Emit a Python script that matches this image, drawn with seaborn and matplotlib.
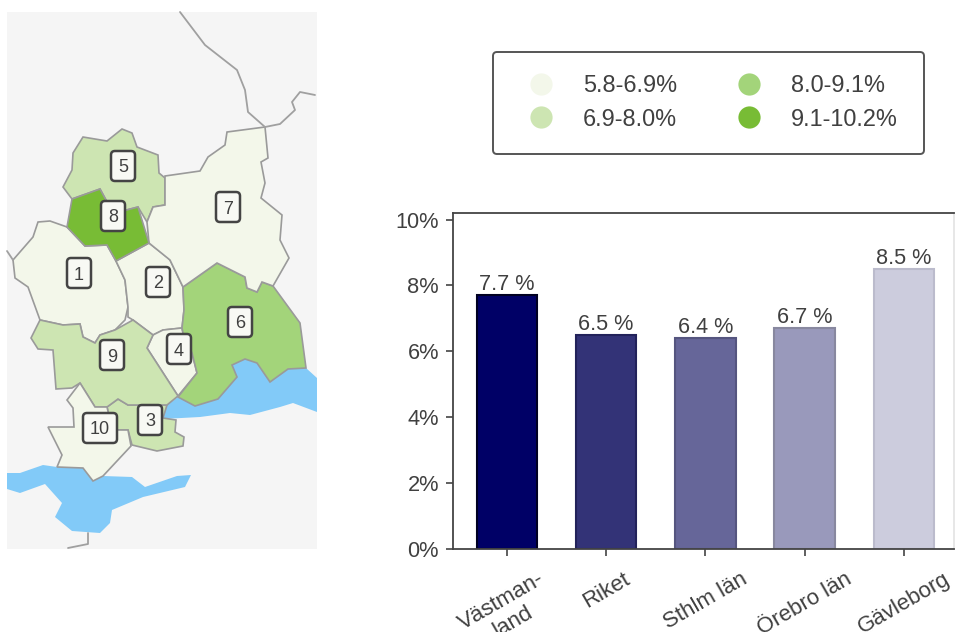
import matplotlib
matplotlib.use('Agg')
import matplotlib.pyplot as plt
import pandas as pd
import seaborn as sns
from matplotlib.lines import Line2D
from matplotlib.patches import FancyBboxPatch, Polygon, Rectangle

# Bar chart data
categories = ['Västman-\nland', 'Riket', 'Sthlm län', 'Örebro län', 'Gävleborg']
shares = [7.7, 6.5, 6.4, 6.7, 8.5]
bar_colors = ['#000066', '#333377', '#666699', '#9999bb', '#ccccdd']
bar_edges = ['#000022', '#22225a', '#55557f', '#88889f', '#bbbbcc']

# Legend classes
class_labels = ['5.8-6.9%', '6.9-8.0%', '8.0-9.1%', '9.1-10.2%']
class_colors = ['#f3f7ea', '#cde5b2', '#a3d47a', '#78bc35']

# Map outlines, traced in image pixels
region_1 = [(38, 222), (50, 221), (67, 227), (85, 246), (107, 245), (116, 261), (125, 280), (128, 307),
            (125, 320), (115, 330), (100, 335), (95, 343), (83, 337), (80, 324), (63, 325), (40, 320),
            (28, 287), (15, 278), (13, 260), (33, 237)]
region_2 = [(116, 261), (149, 243), (168, 258), (170, 260), (183, 287), (184, 310), (182, 328), (163, 330),
            (153, 335), (133, 320), (128, 317), (128, 307), (125, 280)]
region_3 = [(107, 407), (118, 399), (128, 405), (167, 405), (163, 418), (176, 420), (175, 432), (184, 437),
            (183, 446), (157, 451), (132, 445), (128, 430), (117, 430), (110, 420)]
region_4 = [(163, 330), (182, 328), (183, 333), (192, 353), (197, 373), (178, 396), (147, 348), (153, 335)]
region_5 = [(83, 137), (107, 141), (122, 129), (132, 133), (137, 147), (158, 155), (159, 173), (165, 178),
            (165, 205), (153, 207), (147, 222), (138, 207), (115, 213), (106, 200), (100, 189), (72, 199),
            (63, 187), (72, 170), (73, 153)]
region_6 = [(183, 287), (217, 263), (245, 277), (247, 288), (257, 292), (262, 282), (273, 286), (300, 323),
            (306, 368), (288, 369), (270, 382), (257, 363), (245, 359), (232, 365), (237, 377), (218, 399),
            (195, 406), (178, 397), (197, 373), (192, 353), (183, 333), (182, 328), (184, 310)]
region_7 = [(165, 176), (200, 171), (208, 157), (225, 145), (227, 132), (265, 127), (268, 158), (261, 162),
            (265, 183), (261, 198), (282, 215), (280, 240), (289, 258), (273, 286), (262, 282), (257, 292),
            (247, 288), (245, 277), (217, 263), (183, 287), (170, 260), (149, 243), (147, 222), (153, 207),
            (165, 205)]
region_8 = [(72, 199), (100, 189), (106, 200), (115, 213), (138, 207), (149, 243), (116, 261), (107, 245),
            (85, 246), (67, 227)]
region_9 = [(40, 320), (63, 325), (80, 324), (83, 337), (95, 343), (100, 335), (115, 330), (133, 320),
            (153, 335), (147, 348), (178, 396), (167, 405), (128, 405), (118, 399), (107, 407), (95, 407),
            (80, 383), (72, 388), (56, 389), (53, 350), (38, 349), (31, 338)]
region_10 = [(80, 383), (95, 407), (107, 407), (110, 420), (117, 430), (128, 430), (131, 446), (103, 476),
             (93, 481), (83, 468), (57, 467), (62, 455), (48, 427), (74, 427), (73, 408), (67, 400)]
lake_north = [(178, 397), (195, 406), (218, 399), (237, 377), (232, 365), (245, 359), (257, 363), (270, 382),
              (288, 369), (306, 368), (317, 378), (317, 412), (293, 403), (280, 407), (250, 415), (230, 413),
              (200, 417), (163, 419), (167, 405)]
lake_south = [(7, 473), (20, 473), (43, 465), (57, 467), (83, 468), (93, 481), (103, 476), (132, 477),
              (145, 487), (177, 476), (191, 475), (185, 487), (143, 497), (112, 510), (110, 523), (100, 533),
              (72, 531), (55, 517), (62, 503), (45, 484), (20, 493), (7, 489)]
border_lines = [
    [(180, 12), (205, 45), (237, 70), (245, 90), (248, 112), (265, 127)],
    [(265, 127), (280, 124), (295, 110), (292, 102), (300, 92), (315, 95)],
    [(13, 260), (7, 251)],
    [(88, 533), (88, 544), (68, 548)],
]
regions = [region_1, region_2, region_3, region_4, region_5, region_6, region_7, region_8, region_9, region_10]
region_class = [0, 0, 1, 0, 1, 2, 0, 3, 1, 0]
region_names = ['1', '2', '3', '4', '5', '6', '7', '8', '9', '10']
label_x = [79, 158, 150, 179, 123, 240, 228, 113, 112, 100]
label_y = [273, 282, 420, 349, 166, 322, 207, 216, 355, 428]

W, H = 955, 632

sns.set_theme(style='ticks')
plt.rcParams['font.family'] = ['Liberation Sans', 'DejaVu Sans']
text_color = '#404040'

fig = plt.figure(figsize=(W / 100, H / 100), dpi=100)

# Map, drawn in pixel coordinates
ax_map = fig.add_axes([0, 0, 1, 1])
ax_map.set_xlim(0, W)
ax_map.set_ylim(H, 0)
ax_map.axis('off')
ax_map.add_patch(Rectangle((7, 12), 310, 537, facecolor='#f5f5f5', edgecolor='none'))
for line in border_lines:
    ax_map.plot([p[0] for p in line], [p[1] for p in line], color='#a0a0a0', lw=1.3)
for lake in [lake_north, lake_south]:
    ax_map.add_patch(Polygon(lake, facecolor='#82caf8', edgecolor='none'))
for outline, cls in zip(regions, region_class):
    ax_map.add_patch(Polygon(outline, facecolor=class_colors[cls], edgecolor='#9a9a9a', lw=1.2))
for name, x, y in zip(region_names, label_x, label_y):
    half = 13.5 if len(name) > 1 else 8.5
    ax_map.add_patch(FancyBboxPatch((x - half, y - 11.5), 2 * half, 23, boxstyle='round,pad=3.5,rounding_size=4',
                                    facecolor='#f8f9f4', edgecolor='#444444', lw=1.8))
    ax_map.text(x, y, name, ha='center', va='center_baseline', fontsize=13, color=text_color)

# Legend box
ax_map.add_patch(FancyBboxPatch((496, 55), 425, 96, boxstyle='round,pad=3,rounding_size=4',
                                facecolor='white', edgecolor='#555555', lw=1.4))

# Bars
ax = fig.add_axes([453 / W, 1 - 549 / H, (954 - 453) / W, (549 - 213) / H])
df = pd.DataFrame({'category': categories, 'share': shares})
sns.barplot(data=df, x='category', y='share', hue='category', palette=bar_colors, legend=False,
            width=0.61, saturation=1, ax=ax)
for container, edge in zip(ax.containers, bar_edges):
    for bar in container:
        bar.set_edgecolor(edge)
        bar.set_linewidth(1.5)
    ax.bar_label(container, fmt='%.1f %%', padding=0, fontsize=15.6, color=text_color)
ax.set_ylim(0, 10.2)
ax.set_xlim(-0.544, 4.506)
ax.set_yticks([0, 2, 4, 6, 8, 10])
ax.set_yticklabels(['0%', '2%', '4%', '6%', '8%', '10%'], fontsize=15.7, color=text_color)
ax.tick_params(axis='x', labelsize=16, labelcolor=text_color, length=5, width=1.2, color='#444444', pad=9)
ax.tick_params(axis='y', length=5, width=1.2, color='#444444', pad=5)
ax.set_xticks(range(len(categories)))
ax.set_xticklabels(categories, rotation=30, ha='center', va='top', linespacing=1.15)
ax.set_xlabel('')
ax.set_ylabel('')
for side in ['left', 'top', 'bottom']:
    ax.spines[side].set_color('#444444')
    ax.spines[side].set_linewidth(1.3)
ax.spines['right'].set_color('#e4e4e4')
ax.patch.set_alpha(0)

# Legend
handles = [Line2D([], [], linestyle='none', marker='o', markersize=16, markerfacecolor=c, markeredgecolor='none')
           for c in class_colors]
fig.legend(handles, class_labels, ncol=2, loc='upper left', bbox_to_anchor=(523 / W, 1 - 74 / H),
           borderaxespad=0, borderpad=0, handlelength=1.55, handletextpad=1.01, columnspacing=2.29,
           labelspacing=0.45, fontsize=16.9, frameon=False, labelcolor=text_color)

fig.savefig('out.png', dpi=100)
